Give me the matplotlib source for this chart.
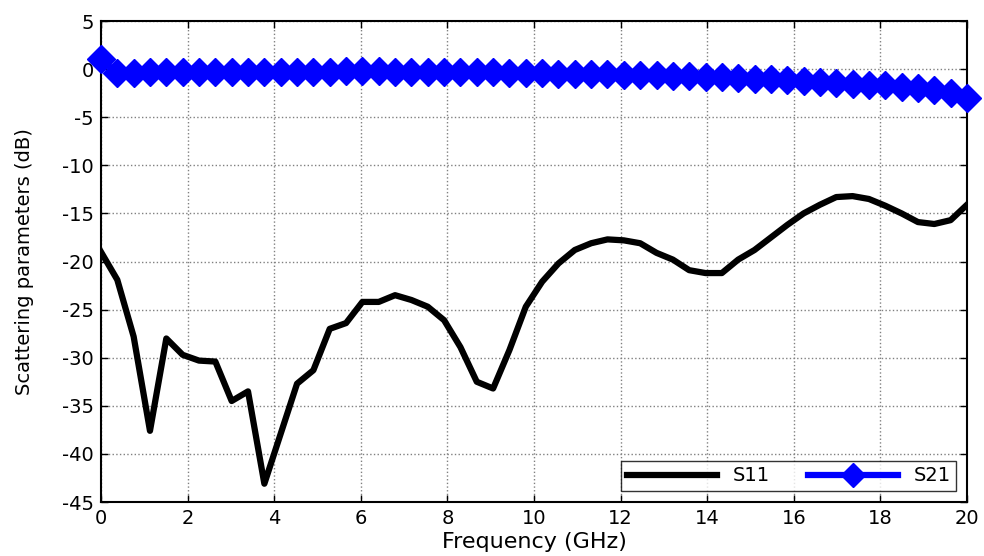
import numpy as np
import matplotlib
matplotlib.use("Agg")
import matplotlib.pyplot as plt

# Frequency sweep (54 points, 0-20 GHz)
freq_ghz = np.linspace(0, 20, 54)

# S11 (dB)
s11_db = [-19.0, -21.9, -27.8, -37.6, -28.0, -29.7, -30.3, -30.4, -34.5, -33.5,
          -43.1, -37.9, -32.7, -31.3, -27.0, -26.4, -24.2, -24.2, -23.5, -24.0,
          -24.7, -26.1, -28.9, -32.5, -33.2, -29.2, -24.7, -22.1, -20.2, -18.8,
          -18.1, -17.7, -17.8, -18.1, -19.1, -19.8, -20.9, -21.2, -21.2, -19.8,
          -18.8, -17.5, -16.2, -15.0, -14.1, -13.3, -13.2, -13.5, -14.2, -15.0,
          -15.9, -16.1, -15.7, -14.1]

# S21 (dB)
s21_db = [1.0, -0.4, -0.4, -0.35, -0.35, -0.3, -0.3, -0.3, -0.3, -0.3,
          -0.3, -0.25, -0.25, -0.25, -0.25, -0.2, -0.2, -0.2, -0.25, -0.25,
          -0.3, -0.3, -0.3, -0.35, -0.35, -0.4, -0.4, -0.45, -0.5, -0.5,
          -0.55, -0.55, -0.6, -0.6, -0.65, -0.7, -0.75, -0.8, -0.85, -0.9,
          -1.0, -1.05, -1.1, -1.2, -1.3, -1.4, -1.5, -1.6, -1.7, -1.85,
          -2.0, -2.2, -2.5, -3.0]

x_ticks = list(range(0, 21, 2))
y_ticks = list(range(-45, 6, 5))

plt.rcParams["font.family"] = "DejaVu Sans"
plt.rcParams["axes.unicode_minus"] = False

fig = plt.figure(figsize=(9.84, 5.56), dpi=100)
ax = fig.add_axes([0.1026, 0.0971, 0.8801, 0.8651])

ax.plot(freq_ghz, s11_db, color="black", linewidth=4.5, label="S11", zorder=3)
ax.plot(freq_ghz, s21_db, color="#0000ff", linewidth=4.5, marker="D",
        markersize=14, markeredgecolor="#0000ff", label="S21", zorder=3,
        clip_on=False)

ax.set_xlim(0, 20)
ax.set_ylim(-45, 5)
ax.set_xticks(x_ticks)
ax.set_yticks(y_ticks)
ax.tick_params(direction="in", length=5, width=1, labelsize=14,
               top=True, right=True, pad=5)
for sp in ax.spines.values():
    sp.set_linewidth(1.5)
ax.grid(True, linestyle=":", color="#808080", linewidth=1.0)

ax.set_xlabel("Frequency (GHz)", fontsize=16, labelpad=3)
ax.set_ylabel("Scattering parameters (dB)", fontsize=14, labelpad=20)

leg = ax.legend(loc="lower right", ncol=2, fontsize=14, frameon=True,
                fancybox=False, edgecolor="black", handlelength=4.6,
                columnspacing=2.0, borderaxespad=0.55, borderpad=0.3,
                markerscale=0.85)
leg.get_frame().set_linewidth(1.0)

fig.savefig("out.png", dpi=100)
